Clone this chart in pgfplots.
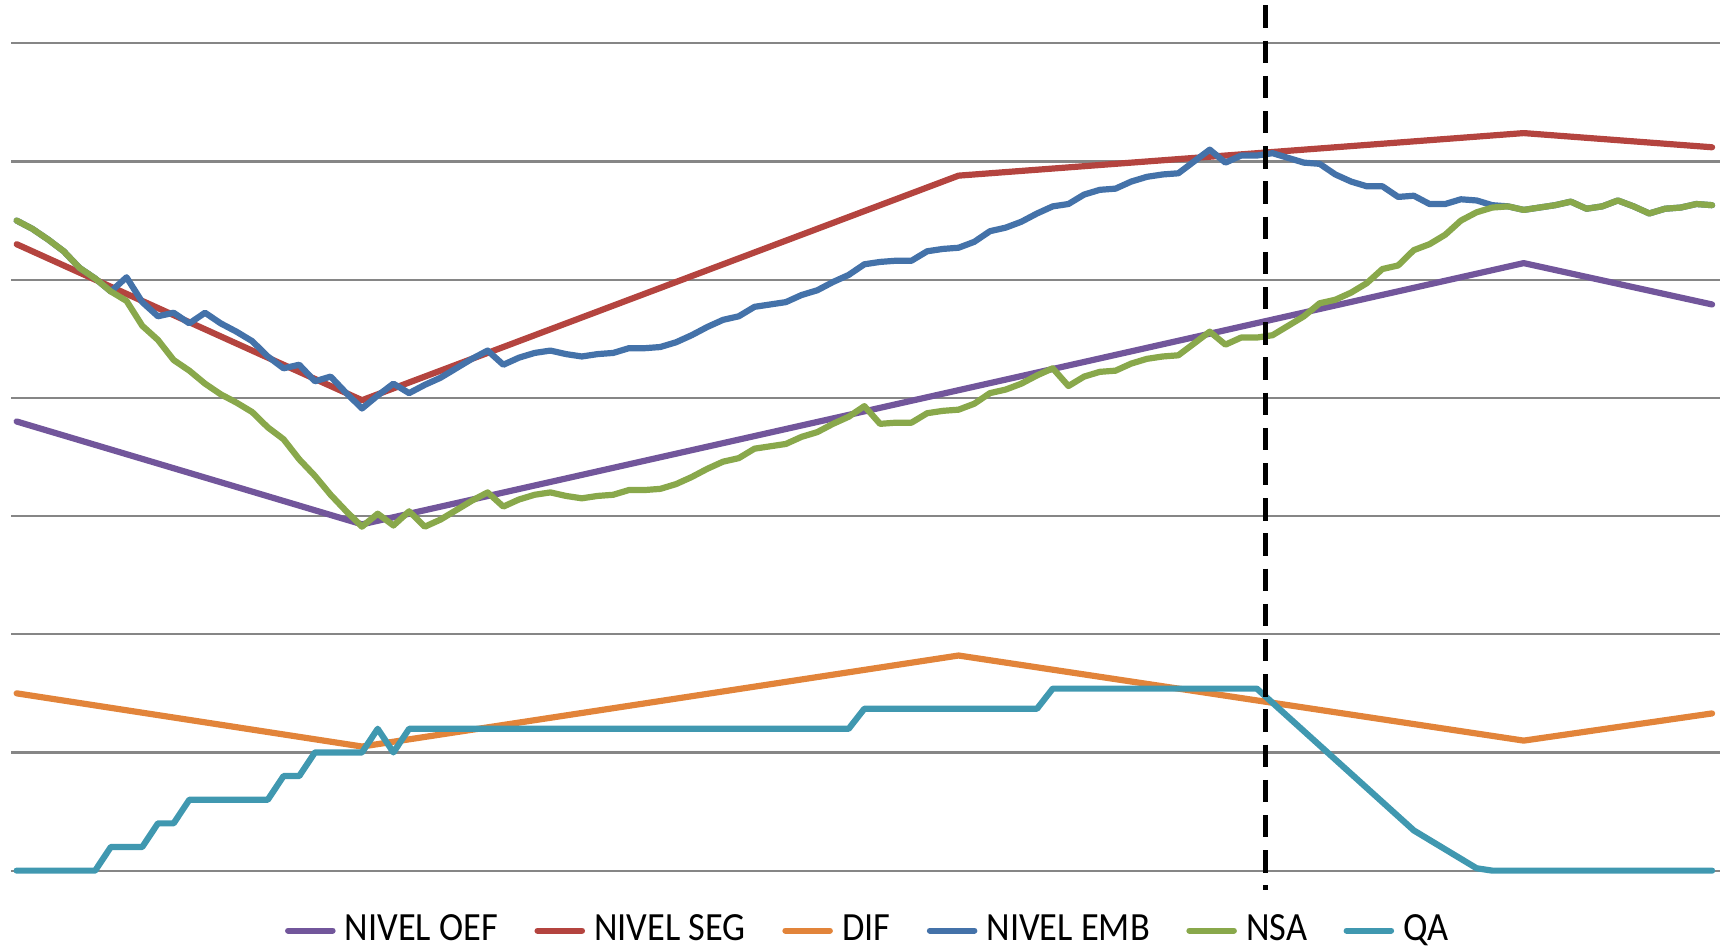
\documentclass[border=0pt]{standalone}
\usepackage{fontspec}
\setmainfont{Carlito}[FakeStretch=0.91]
\usepackage{pgfplots}
\pgfplotsset{compat=1.18}
\usepackage{pgfplotstable}
\definecolor{coef}{HTML}{72569B}
\definecolor{cseg}{HTML}{B4443F}
\definecolor{cdif}{HTML}{E2843A}
\definecolor{cemb}{HTML}{4472A9}
\definecolor{cnsa}{HTML}{89A84B}
\definecolor{cqa}{HTML}{4098B0}
\definecolor{cgrid}{RGB}{134,134,134}
\pgfplotstableread{
x emb nsa qa
0 5.50 5.50 0
1 5.43 5.43 0
2 5.34 5.34 0
3 5.24 5.24 0
4 5.10 5.10 0
5 5.01 5.01 0
6 4.90 4.90 0.2
7 5.02 4.82 0.2
8 4.81 4.61 0.2
9 4.69 4.49 0.4
10 4.72 4.32 0.4
11 4.63 4.23 0.6
12 4.72 4.12 0.6
13 4.63 4.03 0.6
14 4.56 3.96 0.6
15 4.48 3.88 0.6
16 4.35 3.75 0.6
17 4.25 3.65 0.8
18 4.28 3.48 0.8
19 4.14 3.34 1.0
20 4.18 3.18 1.0
21 4.04 3.04 1.0
22 3.91 2.91 1.0
23 4.02 3.02 1.2
24 4.12 2.92 1.0
25 4.04 3.04 1.2
26 4.11 2.91 1.2
27 4.17 2.97 1.2
28 4.25 3.05 1.2
29 4.33 3.13 1.2
30 4.40 3.20 1.2
31 4.28 3.08 1.2
32 4.34 3.14 1.2
33 4.38 3.18 1.2
34 4.40 3.20 1.2
35 4.37 3.17 1.2
36 4.35 3.15 1.2
37 4.37 3.17 1.2
38 4.38 3.18 1.2
39 4.42 3.22 1.2
40 4.42 3.22 1.2
41 4.43 3.23 1.2
42 4.47 3.27 1.2
43 4.53 3.33 1.2
44 4.60 3.40 1.2
45 4.66 3.46 1.2
46 4.69 3.49 1.2
47 4.77 3.57 1.2
48 4.79 3.59 1.2
49 4.81 3.61 1.2
50 4.87 3.67 1.2
51 4.91 3.71 1.2
52 4.98 3.78 1.2
53 5.04 3.84 1.2
54 5.13 3.93 1.37
55 5.15 3.78 1.37
56 5.16 3.79 1.37
57 5.16 3.79 1.37
58 5.24 3.87 1.37
59 5.26 3.89 1.37
60 5.27 3.90 1.37
61 5.32 3.95 1.37
62 5.41 4.04 1.37
63 5.44 4.07 1.37
64 5.49 4.12 1.37
65 5.56 4.19 1.37
66 5.62 4.25 1.54
67 5.64 4.10 1.54
68 5.72 4.18 1.54
69 5.76 4.22 1.54
70 5.77 4.23 1.54
71 5.83 4.29 1.54
72 5.87 4.33 1.54
73 5.89 4.35 1.54
74 5.90 4.36 1.54
75 6.00 4.46 1.54
76 6.10 4.56 1.54
77 5.99 4.45 1.54
78 6.05 4.51 1.54
79 6.05 4.51 1.54
80 6.07 4.53 1.42
81 6.03 4.61 1.30
82 5.99 4.69 1.18
83 5.98 4.80 1.06
84 5.89 4.83 0.94
85 5.83 4.89 0.82
86 5.79 4.97 0.70
87 5.79 5.09 0.58
88 5.70 5.12 0.46
89 5.71 5.25 0.34
90 5.64 5.30 0.26
91 5.64 5.38 0.18
92 5.68 5.50 0.10
93 5.67 5.57 0.02
94 5.63 5.61 0
95 5.62 5.62 0
96 5.59 5.59 0
97 5.61 5.61 0
98 5.63 5.63 0
99 5.66 5.66 0
100 5.60 5.60 0
101 5.62 5.62 0
102 5.67 5.67 0
103 5.62 5.62 0
104 5.56 5.56 0
105 5.60 5.60 0
106 5.61 5.61 0
107 5.64 5.64 0
108 5.63 5.63 0
}\series
\begin{document}
\begin{tikzpicture}
\begin{axis}[
  scale only axis, width=427.35pt, height=206.85pt,
  xmin=-0.36, xmax=108.53, ymin=0, ymax=7,
  axis line style={draw=none},
  xtick=\empty, ytick={0,1,...,7}, yticklabels={},
  yticklabel style={overlay, inner sep=0pt},
  major tick length=0pt,
  ymajorgrids, grid style={color=cgrid, line width=0.55pt},
  clip=false,
  legend style={at={(0.5025,-0.0725)}, anchor=center, draw=none, fill=none, overlay,
    legend columns=6, font=\fontsize{10}{10.5}\selectfont,
    nodes={inner xsep=1.5pt, inner ysep=0.5pt},
    /tikz/every odd column/.append style={column sep=0.8pt},
    /tikz/every even column/.append style={column sep=7.6pt}},
  legend image code/.code={\draw[#1, line cap=round] (0pt,0pt) -- (11.1pt,0pt);},
  every axis plot/.append style={line width=1.55pt, line join=round, line cap=round},
]
\path (rel axis cs:-0.00644,-0.09222) rectangle (rel axis cs:1.00386,1.05233);
\addplot[coef] coordinates {(0,3.80) (22,2.93) (96,5.14) (108,4.79)};
\addlegendentry{NIVEL OEF}
\addplot[cseg] coordinates {(0,5.30) (22,3.98) (60,5.88) (96,6.24) (108,6.12)};
\addlegendentry{NIVEL SEG}
\addplot[cdif] coordinates {(0,1.50) (22,1.05) (60,1.82) (96,1.10) (108,1.33)};
\addlegendentry{DIF}
\addplot[cemb] table[x=x, y=emb] {\series};
\addlegendentry{NIVEL EMB}
\addplot[cnsa] table[x=x, y=nsa] {\series};
\addlegendentry{NSA}
\addplot[cqa] table[x=x, y=qa] {\series};
\addlegendentry{QA}
\addplot[black, line width=1.15pt, line cap=butt, dash pattern=on 5.6pt off 3.2pt, forget plot] coordinates {(79.55,7.32) (79.55,-0.16)};
\end{axis}
\end{tikzpicture}
\end{document}
